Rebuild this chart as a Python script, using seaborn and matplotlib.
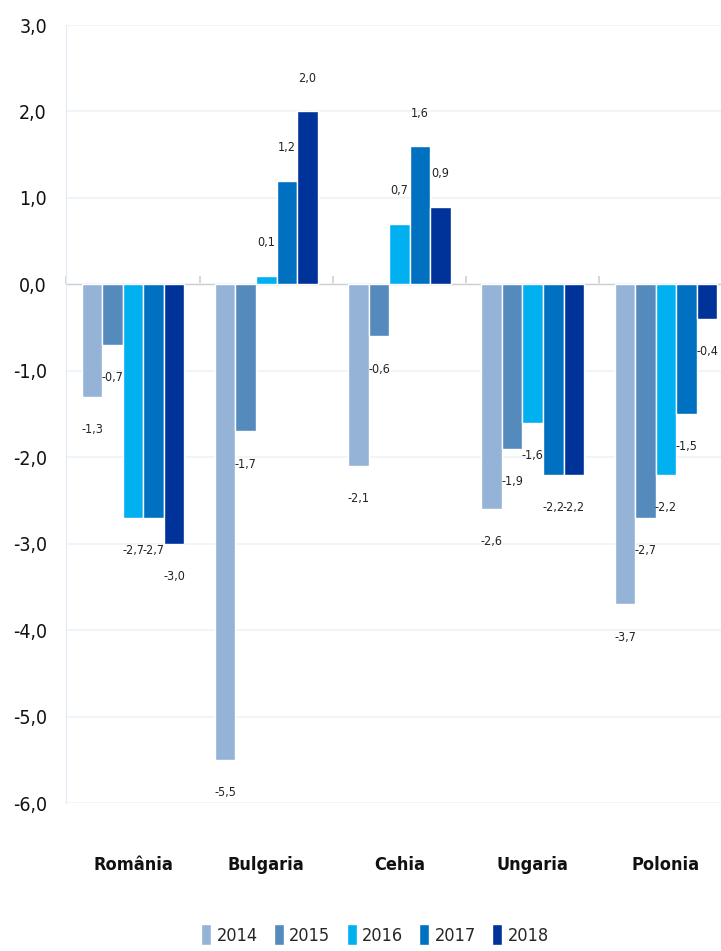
import pandas as pd
import matplotlib
matplotlib.use("Agg")
import matplotlib.pyplot as plt
import seaborn as sns

# --------------------------
# Data
# --------------------------
countries = ["România", "Bulgaria", "Cehia", "Ungaria", "Polonia"]
years = ["2014", "2015", "2016", "2017", "2018"]

v2014 = [-1.3, -5.5, -2.1, -2.6, -3.7]
v2015 = [-0.7, -1.7, -0.6, -1.9, -2.7]
v2016 = [-2.7, 0.1, 0.7, -1.6, -2.2]
v2017 = [-2.7, 1.2, 1.6, -2.2, -1.5]
v2018 = [-3.0, 2.0, 0.9, -2.2, -0.4]

y_ticks = [3, 2, 1, 0, -1, -2, -3, -4, -5, -6]

colors = ["#95B3D7", "#558ABD", "#00B0F0", "#0070C0", "#003399"]

rows = []
for year, vals in zip(years, [v2014, v2015, v2016, v2017, v2018]):
    for c, v in zip(countries, vals):
        rows.append({"country": c, "year": year, "value": v})
df = pd.DataFrame(rows)


def fmt(v):
    return f"{v:.1f}".replace(".", ",")


# --------------------------
# Plot
# --------------------------
sns.set_style("white")
plt.rcParams["font.family"] = ["DejaVu Sans"]
plt.rcParams["font.stretch"] = "condensed"

fig = plt.figure(figsize=(7.21, 9.51), dpi=100)
ax = fig.add_axes([0.0921, 0.1556, 0.924, 0.8181])

sns.barplot(
    data=df,
    x="country",
    y="value",
    hue="year",
    order=countries,
    hue_order=years,
    palette=colors,
    saturation=1,
    width=0.77,
    gap=0,
    errorbar=None,
    ax=ax,
)

for container in ax.containers:
    ax.bar_label(
        container,
        labels=[fmt(v) for v in container.datavalues],
        padding=19,
        fontsize=9,
        color="#222222",
    )

ax.set_ylim(-6, 3)
ax.set_xlim(-0.5, 4.5)
ax.set_yticks(y_ticks)
ax.set_yticklabels([fmt(t) for t in y_ticks], fontsize=14)
ax.yaxis.grid(True, color="#EEF3FA", linewidth=1.2)
ax.set_axisbelow(True)

for s in ["top", "right", "bottom"]:
    ax.spines[s].set_visible(False)
ax.spines["left"].set_color("#E3EBF6")
ax.tick_params(axis="y", length=6, color="#E3EBF6", pad=8, labelcolor="#111111")
ax.tick_params(axis="x", length=0, pad=38)
for lbl in ax.get_xticklabels():
    lbl.set_fontsize(13)
    lbl.set_fontweight("bold")
    lbl.set_color("#111111")

ax.set_xlabel("")
ax.set_ylabel("")

# zero line with category separators
zero = ax.secondary_xaxis(6 / 9)
zero.set_xticks([-0.5, 0.5, 1.5, 2.5, 3.5, 4.5])
zero.set_xticklabels([])
zero.tick_params(length=6, color="#D0D0D0", width=1.2)
zero.spines["bottom"].set_color("#D0D0D0")
zero.spines["bottom"].set_linewidth(2)

# legend
handles, labels = ax.get_legend_handles_labels()
ax.get_legend().remove()
fig.legend(
    handles,
    labels,
    loc="center",
    bbox_to_anchor=(0.52, 0.017),
    ncol=5,
    frameon=False,
    fontsize=13,
    handlelength=0.55,
    handleheight=1.4,
    handletextpad=0.3,
    columnspacing=0.9,
)

plt.savefig("out.png", dpi=100)
